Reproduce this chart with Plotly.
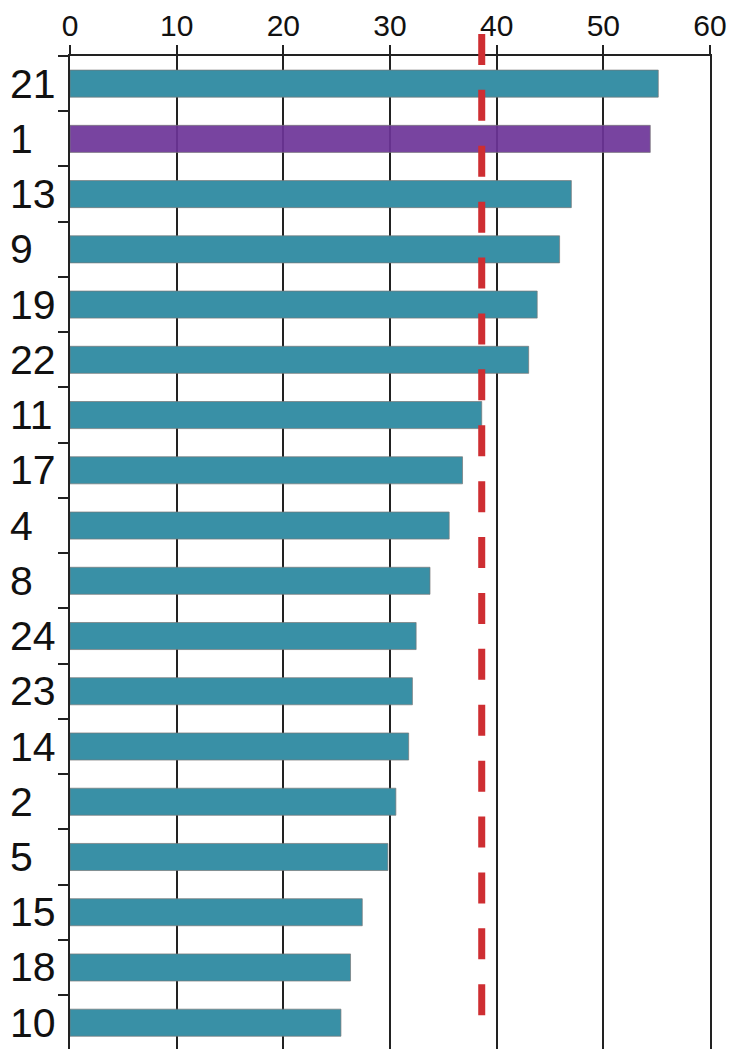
import plotly.graph_objects as go

categories = ["21", "1", "13", "9", "19", "22", "11", "17", "4", "8",
              "24", "23", "14", "2", "5", "15", "18", "10"]
values = [55.15, 54.4, 47.0, 45.9, 43.8, 43.0, 38.6, 36.8, 35.55, 33.75,
          32.45, 32.1, 31.75, 30.55, 29.8, 27.4, 26.3, 25.4]
highlight = "1"
threshold = 38.6
x_ticks = [0, 10, 20, 30, 40, 50, 60]

TEAL = "rgb(57,144,166)"
PURPLE = "rgba(108,52,152,0.92)"
RED = "rgb(206,46,50)"
DARK = "#222222"
FONT = "Liberation Sans, Arial, sans-serif"

W, H = 732, 1049
ML, MR, MT, MB = 70, 22, 56, 0
plot_w = W - ML - MR

colors = [PURPLE if c == highlight else TEAL for c in categories]

fig = go.Figure()
fig.add_trace(go.Bar(
    x=values, y=categories, orientation="h",
    marker=dict(color=colors, line=dict(color="rgba(120,120,120,0.7)", width=1)),
    hoverinfo="x+y",
))

fig.add_shape(type="line", xref="x", yref="paper",
              x0=threshold, x1=threshold, y0=1.0222, y1=0.0332,
              line=dict(color=RED, width=7, dash="31px,24.9px"), layer="above")

# left-aligned category labels (y given as category index)
for i, c in enumerate(categories):
    fig.add_annotation(
        x=(8 - ML) / plot_w, xref="paper", xanchor="left",
        y=i, yref="y", yanchor="middle",
        text=c, showarrow=False,
        font=dict(family=FONT, size=41, color="#111111"),
    )

fig.update_layout(
    width=W, height=H,
    margin=dict(l=ML, r=MR, t=MT, b=MB, pad=0),
    paper_bgcolor="white", plot_bgcolor="white",
    showlegend=False, bargap=0.51,
    font=dict(family=FONT, color="#111111"),
    xaxis=dict(
        side="top", range=[0, 60], tickvals=x_ticks,
        ticktext=[str(t) for t in x_ticks],
        showgrid=True, gridcolor=DARK, gridwidth=1.5,
        zeroline=False, showline=True, linecolor=DARK, linewidth=1.5,
        ticks="outside", ticklen=9, tickcolor=DARK, tickwidth=1.5,
        tickfont=dict(size=30, color="#111111"),
        ticklabelstandoff=-3,
        automargin=False,
    ),
    yaxis=dict(
        type="category", categoryorder="array", categoryarray=categories,
        range=[17.476, -0.5],
        showgrid=False, zeroline=False, showline=True, linecolor=DARK, linewidth=1.5,
        mirror=True, showticklabels=False,
        ticks="outside", tickson="boundaries", ticklen=10, tickcolor=DARK, tickwidth=1.5,
        automargin=False,
    ),
)

fig.write_html("out.html", config={"displayModeBar": False})

# remove the browser's default body margin so the figure fills the window
with open("out.html", "r", encoding="utf-8") as f:
    html = f.read()
html = html.replace("<body>", '<body style="margin:0;overflow:hidden">', 1)
with open("out.html", "w", encoding="utf-8") as f:
    f.write(html)
